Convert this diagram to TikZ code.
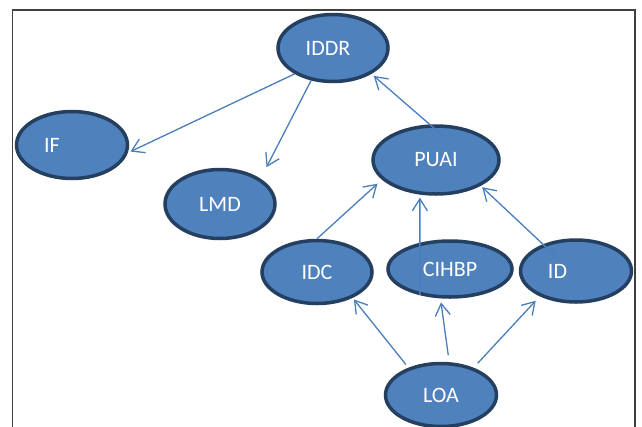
\documentclass[tikz,border=0pt]{standalone}
\usepackage{fontspec}
\setmainfont{Carlito}
\usetikzlibrary{shapes.geometric,arrows.meta}
\definecolor{nodefill}{HTML}{4F81BD}
\definecolor{nodeline}{HTML}{243F60}
\definecolor{linkblue}{HTML}{4A7EBB}
\begin{document}
\begin{tikzpicture}
      [x=1pt,y=-1pt,
      blob/.style={ellipse, fill=nodefill, draw=nodeline, line width=3.5pt, text=white, inner sep=0pt, font=\fontsize{22}{26}\selectfont},
      link/.style={draw=linkblue, line width=1.3pt, -{Straight Barb[length=12pt,width=15pt]}},
      ]
      \useasboundingbox (0,0) rectangle (642,426);
      \draw[black!75, line width=1.5pt] (12.5,430) -- (12.5,10) -- (635,10) -- (635,430);
      \node[blob, minimum width=110pt, minimum height=67pt] (IDDR) at (333,48) {IDDR\hspace*{10pt}};
      \node[blob, minimum width=111pt, minimum height=67pt] (IF) at (72,145) {IF\hspace*{40pt}};
      \node[blob, minimum width=110pt, minimum height=69pt] (LMD) at (220,204) {LMD};
      \node[blob, minimum width=126pt, minimum height=68pt] (PUAI) at (436,160) {PUAI};
      \node[blob, minimum width=110pt, minimum height=63pt] (IDC) at (317,272) {IDC};
      \node[blob, minimum width=124pt, minimum height=56pt] (CIHBP) at (450,269) {CIHBP};
      \node[blob, minimum width=111pt, minimum height=62pt] (ID) at (576,271) {ID\hspace*{37pt}};
      \node[blob, minimum width=111pt, minimum height=63pt] (LOA) at (441,395) {LOA};
      \draw[link, shorten >=3pt] (IDDR.214) -- (IF.352);
      \draw[link, shorten >=13pt] (IDDR.236) -- (LMD.32);
      \draw[link, shorten <=-20pt, shorten >=3pt] (PUAI.100) -- (IDDR.326);
      \draw[link, shorten >=6pt] (IDC.north) -- (PUAI.200);
      \draw[link, shorten >=3pt] (CIHBP.221) -- (PUAI.245);
      \draw[link, shorten <=-16pt, shorten >=2pt] (ID.141) -- (PUAI.330);
      \draw[link, shorten <=4pt, shorten >=2pt] (LOA.140) -- (IDC.324);
      \draw[link, shorten <=7pt, shorten >=4pt] (LOA.76) -- (CIHBP.252);
      \draw[link, shorten <=6pt, shorten >=6pt] (LOA.40) -- (ID.215);
\end{tikzpicture}
\end{document}
